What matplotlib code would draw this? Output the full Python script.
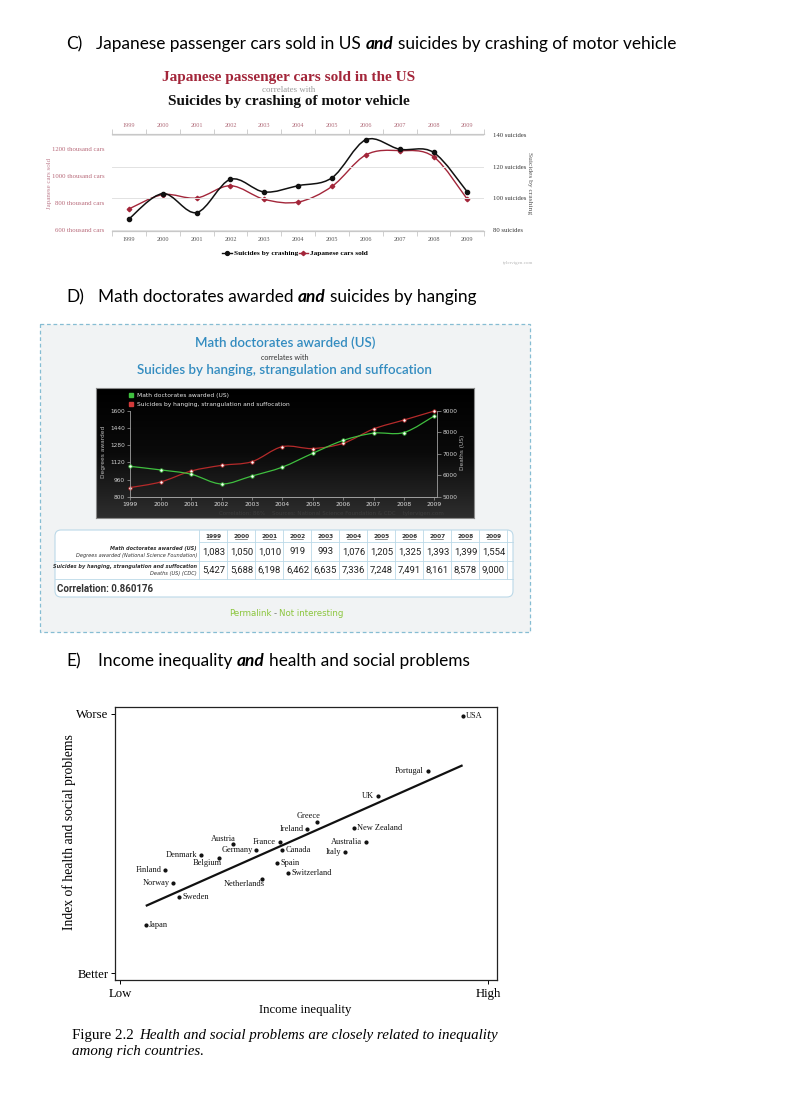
import numpy as np
import matplotlib
matplotlib.use("Agg")
import matplotlib.pyplot as plt
from matplotlib.path import Path
from matplotlib.patches import PathPatch, FancyBboxPatch, Rectangle
from matplotlib.lines import Line2D
from matplotlib.colors import LinearSegmentedColormap

# ---------------- data ----------------
years = [1999, 2000, 2001, 2002, 2003, 2004, 2005, 2006, 2007, 2008, 2009]
crash_suicides = [87, 103, 91, 112, 104, 108, 113, 137, 131, 129, 104]
japanese_cars = [756, 862, 837, 928, 827, 807, 923, 1156, 1188, 1143, 827]
crash_right_ticks = [80, 100, 120, 140]
cars_left_ticks = [600, 800, 1000, 1200]

math_doctorates = [1083, 1050, 1010, 919, 993, 1076, 1205, 1325, 1393, 1399, 1554]
hanging_suicides = [5427, 5688, 6198, 6462, 6635, 7336, 7248, 7491, 8161, 8578, 9000]
math_ticks = [800, 960, 1120, 1280, 1440, 1600]
deaths_ticks = [5000, 6000, 7000, 8000, 9000]
correlation_value = "0.860176"
correlation_pct = "86%"

countries = ["USA", "Portugal", "UK", "Greece", "Ireland", "New Zealand", "Austria", "France",
             "Germany", "Canada", "Australia", "Italy", "Denmark", "Belgium", "Spain",
             "Switzerland", "Finland", "Norway", "Netherlands", "Sweden", "Japan"]
income_inequality = [0.931, 0.836, 0.700, 0.536, 0.509, 0.636, 0.307, 0.434, 0.370, 0.441,
                     0.668, 0.611, 0.220, 0.269, 0.428, 0.457, 0.123, 0.144, 0.386, 0.160, 0.070]
health_social_index = [0.992, 0.780, 0.682, 0.584, 0.555, 0.561, 0.497, 0.506, 0.475, 0.474,
                       0.505, 0.468, 0.457, 0.444, 0.425, 0.386, 0.397, 0.348, 0.363, 0.293, 0.184]
fit_x = [0.070, 0.931]
fit_y = [0.259, 0.802]

# label placement (style only)
label_side = {"USA": "r", "Portugal": "l", "UK": "l", "Greece": (-6.5, 3.8), "Ireland": "l",
              "New Zealand": "r", "Austria": (-7.0, 4.0), "France": "l", "Germany": "l",
              "Canada": "r", "Australia": "l", "Italy": "l", "Denmark": "l",
              "Belgium": (-8.6, -3.6), "Spain": "r", "Switzerland": "r", "Finland": "l",
              "Norway": "l", "Netherlands": (-13.2, -3.8), "Sweden": "r", "Japan": "r"}

# ---------------- figure helpers ----------------
W, H = 788, 1108
fig = plt.figure(figsize=(W / 100, H / 100), dpi=100)
fig.patch.set_facecolor("white")
renderer = fig.canvas.get_renderer()

SERIF = ["Liberation Serif", "DejaVu Serif"]
SANS = ["Lato", "DejaVu Sans"]
NARROW = ["Liberation Sans Narrow", "Roboto", "DejaVu Sans"]


def rect(x0, y0, x1, y1):
    return [x0 / W, 1 - y1 / H, (x1 - x0) / W, (y1 - y0) / H]


def T(x, y, s, **kw):
    kw.setdefault("va", "center")
    return fig.text(x / W, 1 - y / H, s, **kw)


def rich(x, y, parts, size, family, color="black", gap=0.27):
    for s, extra in parts:
        kw = dict(fontsize=size, family=family, color=color, ha="left")
        kw.update(extra)
        t = T(x, y, s, **kw)
        bb = t.get_window_extent(renderer)
        x += bb.width + gap * size * 100 / 72
    return x


def spline(ax, x, y, color, lw, zorder=2):
    pts = np.column_stack([x, y]).astype(float)
    n = len(pts)
    verts = [pts[0]]
    codes = [Path.MOVETO]
    for i in range(n - 1):
        p0 = pts[max(i - 1, 0)]
        p1, p2 = pts[i], pts[i + 1]
        p3 = pts[min(i + 2, n - 1)]
        verts += [p1 + (p2 - p0) / 6.0, p2 - (p3 - p1) / 6.0, p2]
        codes += [Path.CURVE4] * 3
    ax.add_patch(PathPatch(Path(verts, codes), fill=False, edgecolor=color, lw=lw,
                           zorder=zorder, clip_on=False))


# overlay axes in pixel coordinates (shapes only)
ov = fig.add_axes([0, 0, 1, 1])
ov.set_xlim(0, W)
ov.set_ylim(H, 0)
ov.axis("off")

# ---------------- headings ----------------
HEAD = 12.45
and_kw = {"weight": "bold", "style": "italic"}
T(66, 44, "C)", fontsize=HEAD, family=SANS)
rich(96, 44, [("Japanese passenger cars sold in US", {}), ("and", and_kw),
              ("suicides by crashing of motor vehicle", {})], HEAD, SANS)
T(66, 297, "D)", fontsize=HEAD, family=SANS)
rich(98, 297, [("Math doctorates awarded", {}), ("and", and_kw),
               ("suicides by hanging", {})], HEAD, SANS)
T(66, 661, "E)", fontsize=HEAD, family=SANS)
rich(98, 661, [("Income inequality", {}), ("and", and_kw),
               ("health and social problems", {})], HEAD, SANS)

# ================= Panel C =================
RED_C = "#a3263a"
T(289, 78, "Japanese passenger cars sold in the US", fontsize=11.0, family=SERIF,
  weight="bold", color=RED_C, ha="center")
T(289, 89.5, "correlates with", fontsize=6.4, family=SERIF, color="#9a9a9a", ha="center")
T(289, 102, "Suicides by crashing of motor vehicle", fontsize=11.0, family=SERIF,
  weight="bold", color="#111111", ha="center")

axc = fig.add_axes(rect(112, 134, 484.3, 231))
axc.patch.set_visible(False)
axc.set_xlim(1998.5, 2009.5)
axc.set_ylim(592.6, 1311.1)
axr = axc.twinx()
axr.set_ylim(79.37, 140.63)

for a in (axc, axr):
    for s in ("left", "right"):
        a.spines[s].set_visible(False)
    for s in ("top", "bottom"):
        a.spines[s].set_color("#c8c8c8")
        a.spines[s].set_linewidth(0.8)

axr.set_yticks(crash_right_ticks, labels=[f"{v} suicides" for v in crash_right_ticks])
axr.tick_params(axis="y", length=0, pad=6.2, labelsize=4.8, labelcolor="#333333")
for lab in axr.get_yticklabels():
    lab.set_family(SERIF)
axr.grid(axis="y", color="#e2e2e2", lw=0.7)
axr.set_axisbelow(True)

axc.set_yticks(cars_left_ticks, labels=[f"{v} thousand cars" for v in cars_left_ticks])
axc.tick_params(axis="y", length=0, pad=5.5, labelsize=4.9, labelcolor="#b86a7a")
for lab in axc.get_yticklabels():
    lab.set_family(SERIF)

axc.set_xticks(years, labels=[str(y) for y in years])
axc.set_xticks([y - 0.5 for y in years] + [years[-1] + 0.5], minor=True)
axc.tick_params(axis="x", which="major", length=0, labelsize=4.4, pad=4.0,
                labelcolor="#555555", top=False, labeltop=True)
axc.tick_params(axis="x", which="minor", length=3.5, color="#c8c8c8", top=True, bottom=True,
                direction="out")
axr.tick_params(axis="x", which="both", length=0)
for t in axc.xaxis.get_major_ticks():
    t.label1.set_family(SERIF)
    t.label2.set_color("#b06a78")
    t.label2.set_family(SERIF)
    t.label2.set_fontsize(4.4)

spline(axc, years, japanese_cars, RED_C, 1.0, zorder=2)
axc.plot(years, japanese_cars, ls="none", marker="D", ms=2.3, color=RED_C, zorder=3)
spline(axr, years, crash_suicides, "#111111", 1.1, zorder=3)
axr.plot(years, crash_suicides, ls="none", marker="o", ms=3.0, color="#111111", zorder=4)

T(49.5, 183, "Japanese cars sold", fontsize=5.0, family=SERIF, color="#c08090",
  rotation=90, ha="center")
T(529.5, 183, "Suicides by crashing", fontsize=5.4, family=SERIF, color="#555555",
  rotation=270, ha="center")

handles = [Line2D([], [], color="#111111", marker="o", ms=2.8, lw=1.0),
           Line2D([], [], color=RED_C, marker="D", ms=2.2, lw=1.0)]
fig.legend(handles, ["Suicides by crashing", "Japanese cars sold"], loc="center",
           bbox_to_anchor=(295 / W, 1 - 253 / H), ncol=2, frameon=False,
           prop={"family": SERIF, "weight": "bold", "size": 5.3},
           handlelength=1.3, handletextpad=0.25, columnspacing=0.1)
T(518, 263, "tylervigen.com", fontsize=3.6, family=SERIF, color="#b8b8b8", ha="center")

# ================= Panel D =================
ov.add_patch(Rectangle((40, 324), 490, 308, facecolor="#f1f3f4", edgecolor="#86bdd3",
                       lw=0.9, ls=(0, (3, 2.2))))
BLUE_D = "#338cc0"
T(285, 343, "Math doctorates awarded (US)", fontsize=9.6, family=SANS, weight="semibold",
  color=BLUE_D, ha="center")
T(285, 357, "correlates with", fontsize=5.2, family=SANS, color="#333333", ha="center")
T(284, 370, "Suicides by hanging, strangulation and suffocation", fontsize=9.6, family=SANS,
  weight="semibold", color=BLUE_D, ha="center")

bg = fig.add_axes(rect(96, 388, 474, 518))
grad = np.linspace(0, 1, 120).reshape(-1, 1)
cm = LinearSegmentedColormap.from_list("g", ["#000000", "#0a0a0a", "#2e2e2e"])
bg.imshow(grad, extent=(96, 474, 518, 388), aspect="auto", cmap=cm, interpolation="bilinear")
bg.set_xlim(96, 474)
bg.set_ylim(518, 388)
bg.set_xticks([])
bg.set_yticks([])
for s in bg.spines.values():
    s.set_color("#8a8a8a")
    s.set_linewidth(0.8)

GREEN_D = "#3fbf3f"
RED_D = "#b52a2a"
bg.plot([131], [395.3], ls="none", marker="s", ms=2.2, color=GREEN_D)
bg.plot([131], [404.3], ls="none", marker="s", ms=2.2, color="#d23a3a")
bg.text(136.7, 395.3, "Math doctorates awarded (US)", fontsize=4.3, family="DejaVu Sans",
        color="#e8e8e8", va="center")
bg.text(136.7, 404.3, "Suicides by hanging, strangulation and suffocation", fontsize=4.3,
        family="DejaVu Sans", color="#e8e8e8", va="center")
bg.text(331, 513.5, f"Correlation: {correlation_pct}    Sources: National Science Foundation & CDC    tylervigen.com",
        fontsize=4.0, family="DejaVu Sans", color="#3c3c3c", va="center", ha="center")

axd = fig.add_axes(rect(130.3, 411, 436.5, 496.7))
axd.patch.set_visible(False)
axd.set_xlim(1999, 2009 + 2.2 / 30.4)
axd.set_ylim(800, 1600)
axd2 = axd.twinx()
axd2.set_ylim(5000, 9000)
for a in (axd, axd2):
    a.spines["top"].set_visible(False)
    for s in ("left", "right", "bottom"):
        a.spines[s].set_color("#a0a0a0")
        a.spines[s].set_linewidth(0.6)
axd.spines["right"].set_visible(False)
axd2.spines["left"].set_visible(False)
axd.set_yticks(math_ticks)
axd.tick_params(axis="y", length=2.5, width=0.5, color="#a0a0a0", pad=1.2, labelsize=4.2,
                labelcolor="#cfcfcf")
axd2.set_yticks(deaths_ticks)
axd2.tick_params(axis="y", length=3.0, width=0.5, color="#a0a0a0", pad=1.2, labelsize=4.2,
                 labelcolor="#cfcfcf")
axd.set_xticks(years)
axd.tick_params(axis="x", length=2.0, width=0.5, color="#a0a0a0", pad=1.8, labelsize=4.3,
                labelcolor="#dddddd")
for lab in axd.get_xticklabels() + axd.get_yticklabels() + axd2.get_yticklabels():
    lab.set_family("DejaVu Sans")
axd2.tick_params(axis="x", length=0)

spline(axd2, years, hanging_suicides, RED_D, 0.9, zorder=2)
axd2.plot(years, hanging_suicides, ls="none", marker="o", ms=2.4, mfc="white", mec=RED_D,
          mew=0.6, zorder=3, clip_on=False)
spline(axd, years, math_doctorates, GREEN_D, 0.9, zorder=4)
axd.plot(years, math_doctorates, ls="none", marker="o", ms=2.4, mfc="white", mec=GREEN_D,
         mew=0.6, zorder=5, clip_on=False)
axd.set_zorder(axd2.get_zorder() + 1)

T(103, 452, "Degrees awarded", fontsize=4.2, family="DejaVu Sans", color="#bbbbbb",
  rotation=90, ha="center")
T(462, 452, "Deaths (US)", fontsize=4.2, family="DejaVu Sans", color="#bbbbbb",
  rotation=90, ha="center")

# table
LINE = "#bcd9e8"
ov.add_patch(FancyBboxPatch((55, 530), 458, 67, boxstyle="round,pad=0,rounding_size=6",
                            facecolor="white", edgecolor=LINE, lw=0.8))
col_x0, col_dx = 213.5, 28.0
for i in range(len(years) + 1):
    xv = col_x0 - col_dx / 2 + i * col_dx
    ov.plot([xv, xv], [530, 579], color=LINE, lw=0.6)
ov.plot([199.5, 513], [542, 542], color=LINE, lw=0.6)
ov.plot([55, 513], [561, 561], color=LINE, lw=0.6)
ov.plot([55, 513], [579, 579], color=LINE, lw=0.6)
for i, y in enumerate(years):
    xc = col_x0 + i * col_dx
    T(xc, 536.5, str(y), fontsize=4.2, family="DejaVu Sans", weight="bold", color="#333333",
      ha="center")
    ov.plot([xc - 6, xc + 6], [539.3, 539.3], color="#333333", lw=0.4)
    T(xc, 552, f"{math_doctorates[i]:,}", fontsize=6.8, family="Roboto", color="#222222",
      ha="center")
    T(xc, 570, f"{hanging_suicides[i]:,}", fontsize=6.8, family="Roboto", color="#222222",
      ha="center")
T(197, 548.5, "Math doctorates awarded (US)", fontsize=3.6, family="DejaVu Sans",
  style="italic", weight="bold", color="#333333", ha="right")
T(197, 555, "Degrees awarded (National Science Foundation)", fontsize=3.6,
  family="DejaVu Sans", style="italic", color="#333333", ha="right")
T(197, 566.5, "Suicides by hanging, strangulation and suffocation", fontsize=3.6,
  family="DejaVu Sans", style="italic", weight="bold", color="#333333", ha="right")
T(197, 573, "Deaths (US) (CDC)", fontsize=3.6, family="DejaVu Sans", style="italic",
  color="#333333", ha="right")
T(57, 588.5, f"Correlation: {correlation_value}", fontsize=7.0, family=NARROW,
  weight="bold", color="#333333", ha="left")

rich(229, 614, [("Permalink", {"color": "#8cc63e"}), ("-", {"color": "#777777"}),
                ("Not interesting", {"color": "#8cc63e"})], 6.2, ["DejaVu Sans"])

# ================= Panel E =================
axe = fig.add_axes(rect(115, 707, 497, 980))
axe.set_xlim(-0.0136, 1.0245)
axe.set_ylim(-0.027, 1.027)
for s in axe.spines.values():
    s.set_color("#222222")
    s.set_linewidth(0.9)
axe.set_xticks([0, 1], labels=["Low", "High"])
axe.set_yticks([0, 1], labels=["Better", "Worse"])
axe.tick_params(axis="x", length=3, width=0.7, pad=2.5, labelsize=9.2)
axe.tick_params(axis="y", length=3, width=0.7, pad=1.5, labelsize=9.2)
for lab in axe.get_xticklabels() + axe.get_yticklabels():
    lab.set_family(SERIF)
axe.plot(fit_x, fit_y, color="#111111", lw=1.6, solid_capstyle="butt")
axe.plot(income_inequality, health_social_index, ls="none", marker="o", ms=2.0,
         color="#111111")
for name, xv, yv in zip(countries, income_inequality, health_social_index):
    side = label_side[name]
    if side == "r":
        off, ha = (2.4, 0), "left"
    elif side == "l":
        off, ha = (-2.6, 0), "right"
    else:
        off, ha = side, "center"
    axe.annotate(name, (xv, yv), xytext=off, textcoords="offset points", ha=ha, va="center",
                 fontsize=6.0, family=SERIF, color="#111111")

T(305, 1010, "Income inequality", fontsize=9.2, family=SERIF, ha="center")
T(69, 832, "Index of health and social problems", fontsize=9.8, family=SERIF,
  rotation=90, ha="center")
rich(72, 1035, [("Figure 2.2", {}), ("Health and social problems are closely related to inequality",
                                     {"style": "italic"})], 10.8, SERIF, gap=0.35)
T(72, 1052, "among rich countries.", fontsize=10.8, family=SERIF, style="italic", ha="left")

fig.savefig("out.png", dpi=100, facecolor="white")
